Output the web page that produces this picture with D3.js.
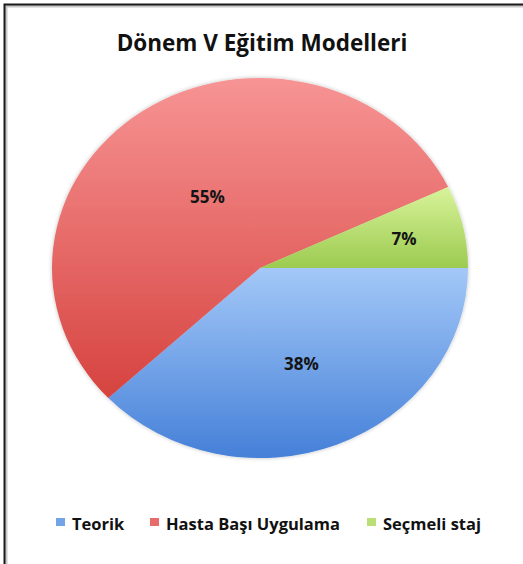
<!DOCTYPE html>
<html>
<head>
<meta charset="utf-8">
<script src="https://cdn.jsdelivr.net/npm/d3@7"></script>
<style>
  body { margin: 0; background: #fff; }
  text { font-family: "Open Sans", Lato, sans-serif; font-weight: bold; }
</style>
</head>
<body>
<div id="chart"></div>
<script>
const W = 523, H = 564;

const categories = ['Teorik', 'Hasta Başı Uygulama', 'Seçmeli staj'];
const values = [38, 55, 7];
const colorsTop = ['#a3c8f8', '#f79494', '#d8f39a'];
const colorsBottom = ['#4580d8', '#d6433f', '#9ccb50'];
const title = 'Dönem V Eğitim Modelleri';

// pie is slightly stretched horizontally in the picture
const cx = 260, cy = 268;
const rx = 208, ry = 190;
// how far out each percentage label sits (fraction of radius)
const labelR = [0.54, 0.45, 0.71];

const svg = d3.select('#chart')
  .append('svg')
  .attr('width', W)
  .attr('height', H);

// frame (left and top edges only are visible)
svg.append('path')
  .attr('d', `M6,${H} L6,6 L${W},6`)
  .attr('fill', 'none')
  .attr('stroke', '#c8c8c8')
  .attr('stroke-width', 3);
svg.append('path')
  .attr('d', `M4.5,${H} L4.5,4.5 L${W},4.5`)
  .attr('fill', 'none')
  .attr('stroke', '#1a1a1a')
  .attr('stroke-width', 2);

const defs = svg.append('defs');
categories.forEach((c, i) => {
  const g = defs.append('linearGradient')
    .attr('id', 'grad' + i)
    .attr('x1', 0).attr('y1', 0)
    .attr('x2', 0).attr('y2', 1);
  g.append('stop').attr('offset', '0%').attr('stop-color', colorsTop[i]);
  g.append('stop').attr('offset', '100%').attr('stop-color', colorsBottom[i]);
});

const shadow = defs.append('filter').attr('id', 'shadow')
  .attr('x', '-10%').attr('y', '-10%').attr('width', '120%').attr('height', '120%');
shadow.append('feGaussianBlur').attr('in', 'SourceAlpha').attr('stdDeviation', 2).attr('result', 'b');
shadow.append('feComponentTransfer').append('feFuncA').attr('type', 'linear').attr('slope', 0.25);
const merge = shadow.append('feMerge');
merge.append('feMergeNode');
merge.append('feMergeNode').attr('in', 'SourceGraphic');

svg.append('text')
  .attr('x', 262)
  .attr('y', 51)
  .attr('text-anchor', 'middle')
  .attr('font-size', 22.5)
  .attr('fill', '#111')
  .text(title);

const data = categories.map((c, i) => ({ name: c, value: values[i], i: i }));

const pie = d3.pie()
  .sort(null)
  .value(d => d.value)
  .startAngle(Math.PI / 2)
  .endAngle(Math.PI / 2 + 2 * Math.PI);

const arcs = pie(data);

const arc = d3.arc().innerRadius(0).outerRadius(ry);

const pg = svg.append('g')
  .attr('transform', `translate(${cx},${cy}) scale(${rx / ry},1)`)
  .attr('filter', 'url(#shadow)');

pg.selectAll('path')
  .data(arcs)
  .enter()
  .append('path')
  .attr('d', arc)
  .attr('fill', d => 'url(#grad' + d.data.i + ')');

// labels
const labelPos = d => {
  const r = ry * labelR[d.data.i];
  const c = d3.arc().innerRadius(r).outerRadius(r).centroid(d);
  return [cx + c[0] * rx / ry, cy + c[1]];
};
svg.selectAll('.lbl')
  .data(arcs)
  .enter()
  .append('text')
  .attr('class', 'lbl')
  .attr('x', d => labelPos(d)[0])
  .attr('y', d => labelPos(d)[1])
  .attr('dy', '0.36em')
  .attr('text-anchor', 'middle')
  .attr('font-size', 17)
  .attr('fill', '#141414')
  .text(d => d.data.value + '%');

// legend
const legendX = [56, 150, 367];
const lg = svg.selectAll('.leg')
  .data(data)
  .enter()
  .append('g')
  .attr('class', 'leg')
  .attr('transform', (d, i) => `translate(${legendX[i]},518)`);

lg.append('rect')
  .attr('width', 9)
  .attr('height', 8)
  .attr('fill', d => d3.interpolateRgb(colorsTop[d.i], colorsBottom[d.i])(0.5));

lg.append('text')
  .attr('x', 16)
  .attr('y', 12)
  .attr('font-size', 16.5)
  .attr('fill', '#111')
  .text(d => d.name);
</script>
</body>
</html>
